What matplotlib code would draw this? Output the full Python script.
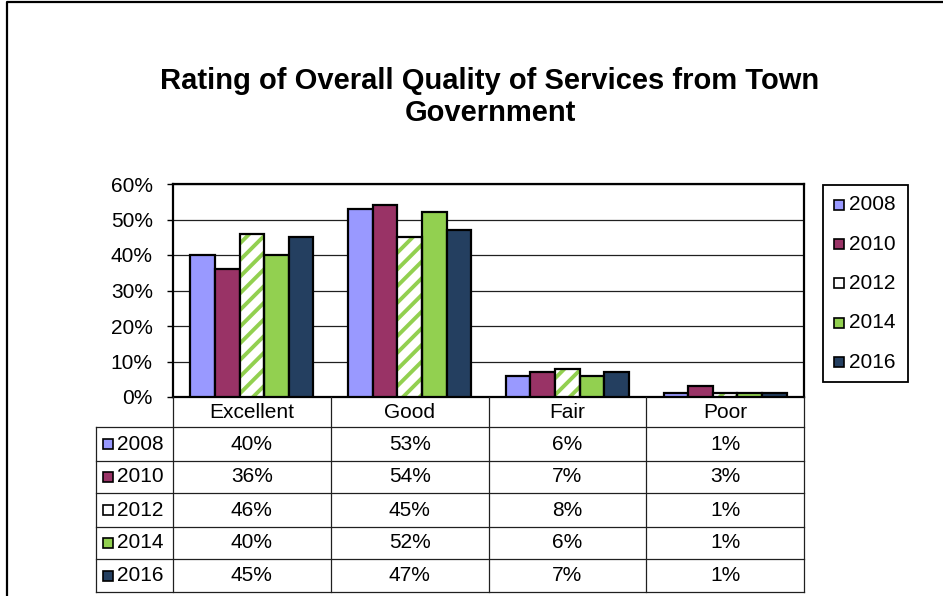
import matplotlib.pyplot as plt
import numpy as np
from matplotlib.lines import Line2D
from matplotlib.patches import Rectangle

plt.rcParams["font.family"] = ["Liberation Sans", "DejaVu Sans"]
plt.rcParams["hatch.linewidth"] = 2.8

# Ratings by survey year, in percent
categories = ["Excellent", "Good", "Fair", "Poor"]
years = ["2008", "2010", "2012", "2014", "2016"]
r2008 = [40, 53, 6, 1]
r2010 = [36, 54, 7, 3]
r2012 = [46, 45, 8, 1]
r2014 = [40, 52, 6, 1]
r2016 = [45, 47, 7, 1]
series = [r2008, r2010, r2012, r2014, r2016]

colors = ["#9999FF", "#993366", "white", "#92D050", "#243F60"]
hatch_green = "#92D050"
FS = 15

W, H = 943, 596
fig = plt.figure(figsize=(W / 100, H / 100), dpi=100)


def fx(px):
    return px / W


def fy(py):
    return 1 - py / H


# plot area in pixel coordinates
L, R, T, B = 173, 804, 184, 397
ax = fig.add_axes([fx(L), fy(B), fx(R - L), (B - T) / H])

x = np.arange(len(categories))
bw = 0.156
for j, (vals, col) in enumerate(zip(series, colors)):
    pos = x + (j - 2) * bw
    if years[j] == "2012":
        # white bar with green diagonal stripes, black outline on top
        ax.bar(pos, vals, bw, color="white", edgecolor=hatch_green, hatch="//",
               linewidth=0, zorder=3)
        ax.bar(pos, vals, bw, color="none", edgecolor="black", linewidth=1.6, zorder=4)
    else:
        ax.bar(pos, vals, bw, color=col, edgecolor="black", linewidth=1.6, zorder=3)

ax.set_xlim(-0.5, len(categories) - 0.5)
ax.set_ylim(0, 60)
ax.set_yticks(range(0, 61, 10))
ax.set_yticklabels([f"{v}%" for v in range(0, 61, 10)], fontsize=FS)
ax.tick_params(axis="y", length=4.5, width=1, direction="out", pad=10)
ax.set_xticks([])
ax.grid(axis="y", color="#202020", linewidth=0.9, zorder=0)
ax.set_axisbelow(True)
for sp in ax.spines.values():
    sp.set_linewidth(1.6)
    sp.set_color("black")

# legend box on the right, drawn as a key of squares and labels
fig.add_artist(Rectangle((fx(823), fy(382)), (908 - 823) / W, (382 - 185) / H,
                         facecolor="white", edgecolor="black", linewidth=1.3,
                         transform=fig.transFigure))
leg_rows = [205, 244, 283, 323, 362]
for yr, col, cy in zip(years, colors, leg_rows):
    fig.add_artist(Rectangle((fx(834), fy(cy + 5)), 10 / W, 10 / H,
                             facecolor=col, edgecolor="black", linewidth=1.2,
                             transform=fig.transFigure))
    fig.text(fx(849), fy(cy), yr, ha="left", va="center", fontsize=FS)

# data table under the chart
col_edges = [L + i * (R - L) / len(categories) for i in range(len(categories) + 1)]
row_edges = [427, 461, 493, 527, 559, 592]
tab_left = 96
lc = "#202020"


def hline(x0, x1, y):
    fig.add_artist(Line2D([fx(x0), fx(x1)], [fy(y), fy(y)], color=lc, lw=0.9))


def vline(xp, y0, y1):
    fig.add_artist(Line2D([fx(xp), fx(xp)], [fy(y0), fy(y1)], color=lc, lw=0.9))


for y in row_edges:
    hline(tab_left, R, y)
vline(tab_left, row_edges[0], row_edges[-1])
for xe in col_edges:
    vline(xe, B, row_edges[-1])

for i, cat in enumerate(categories):
    cx = (col_edges[i] + col_edges[i + 1]) / 2
    fig.text(fx(cx), fy((B + row_edges[0]) / 2), cat, ha="center", va="center",
             fontsize=FS)

for j, (yr, vals, col) in enumerate(zip(years, series, colors)):
    cy = (row_edges[j] + row_edges[j + 1]) / 2
    fig.add_artist(Rectangle((fx(103), fy(cy + 5)), 10 / W, 10 / H,
                             facecolor=col, edgecolor="black", linewidth=1.2,
                             transform=fig.transFigure))
    fig.text(fx(117), fy(cy), yr, ha="left", va="center", fontsize=FS)
    for i, v in enumerate(vals):
        cx = (col_edges[i] + col_edges[i + 1]) / 2
        fig.text(fx(cx), fy(cy), f"{v}%", ha="center", va="center", fontsize=FS)

fig.text(fx(490), fy(67), "Rating of Overall Quality of Services from Town\nGovernment",
         ha="center", va="top", fontsize=21, fontweight="bold", linespacing=1.17)

# outer chart border (left and top edges)
fig.add_artist(Line2D([fx(7), fx(7), fx(W)], [0, fy(1.5), fy(1.5)],
                      color="black", lw=1.6))

fig.savefig("out.png", dpi=100)
